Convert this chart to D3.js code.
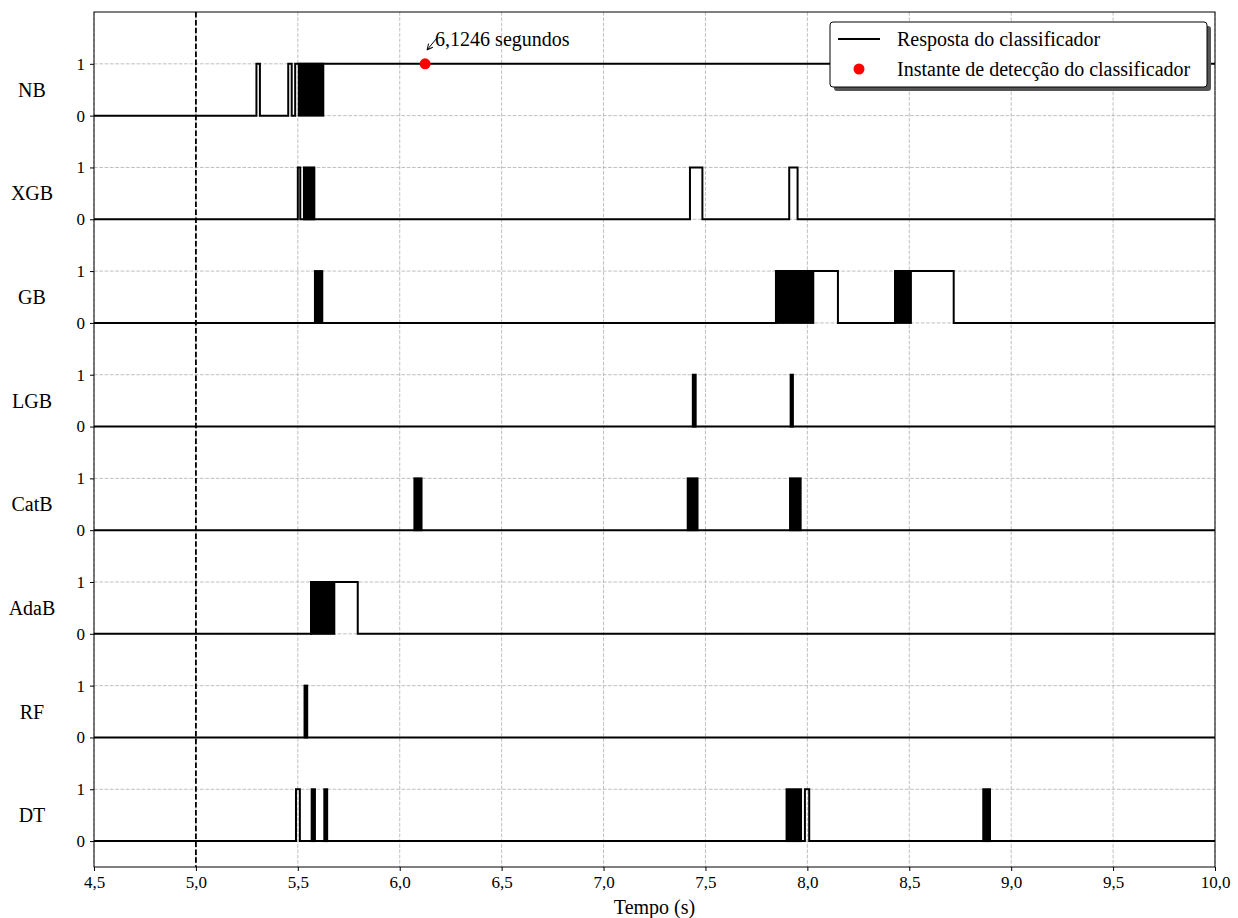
<!DOCTYPE html>
<html>
<head>
<meta charset="utf-8">
<script src="https://cdn.jsdelivr.net/npm/d3@7"></script>
<style>
  html, body { margin: 0; padding: 0; background: #fff; }
  svg { display: block; font-family: "Liberation Serif", "Times New Roman", serif; }
</style>
</head>
<body>
<svg id="chart" width="1238" height="918"></svg>
<script>
// Classifiers, top to bottom
const classifiers = ["NB", "XGB", "GB", "LGB", "CatB", "AdaB", "RF", "DT"];

// Intervals (s) where each classifier output holds 1
const pulsesNB   = [[5.297, 5.314], [5.453, 5.470], [5.487, 10.3]];
const pulsesXGB  = [[5.500, 5.512], [7.424, 7.485], [7.911, 7.952]];
const pulsesGB   = [[7.846, 8.150], [8.430, 8.718]];
const pulsesLGB  = [];
const pulsesCatB = [];
const pulsesAdaB = [[5.565, 5.794]];
const pulsesRF   = [];
const pulsesDT   = [[5.491, 5.510], [7.988, 8.009]];

// Intervals (s) where the output toggles between 0 and 1 on every sample
const burstsNB   = [[5.505, 5.625]];
const burstsXGB  = [[5.530, 5.581]];
const burstsGB   = [[5.584, 5.620], [7.846, 8.029], [8.430, 8.508]];
const burstsLGB  = [[7.438, 7.452], [7.918, 7.929]];
const burstsCatB = [[6.072, 6.107], [7.413, 7.461], [7.915, 7.967]];
const burstsAdaB = [[5.565, 5.679]];
const burstsRF   = [[5.533, 5.546]];
const burstsDT   = [[5.568, 5.584], [5.630, 5.644], [7.898, 7.969], [8.863, 8.896]];

const pulses = [pulsesNB, pulsesXGB, pulsesGB, pulsesLGB, pulsesCatB, pulsesAdaB, pulsesRF, pulsesDT];
const bursts = [burstsNB, burstsXGB, burstsGB, burstsLGB, burstsCatB, burstsAdaB, burstsRF, burstsDT];

// Axis ticks and markers
const xTicks = [4.5, 5.0, 5.5, 6.0, 6.5, 7.0, 7.5, 8.0, 8.5, 9.0, 9.5, 10.0];
const faultTime = 5.0;
const detectionTime = 6.1246;
const detectionLabel = "6,1246 segundos";
const legendLabels = ["Resposta do classificador", "Instante de detecção do classificador"];
const xLabel = "Tempo (s)";

const svg = d3.select("#chart");
const margin = { left: 94, right: 1215, top: 12, bottom: 867 };

const x = d3.scaleLinear().domain([4.5, 10.0]).range([margin.left, margin.right]);
const n = classifiers.length;
const offset = i => 2 * (n - 1 - i);
const y = d3.scaleLinear().domain([-0.5, 2 * n]).range([margin.bottom, margin.top]);

const fmt = v => d3.format(".1f")(v).replace(".", ",");

svg.append("defs").append("clipPath").attr("id", "plotclip")
  .append("rect")
  .attr("x", margin.left).attr("y", margin.top)
  .attr("width", margin.right - margin.left).attr("height", margin.bottom - margin.top);

const grid = svg.append("g").attr("stroke", "#b0b0b0").attr("stroke-width", 0.8)
  .attr("stroke-dasharray", "3.7,1.6");

// vertical grid
grid.selectAll("line.v").data(xTicks).join("line")
  .attr("x1", d => x(d)).attr("x2", d => x(d))
  .attr("y1", margin.top).attr("y2", margin.bottom);

// horizontal grid at each 0 / 1 level
const yTickVals = [];
classifiers.forEach((c, i) => { yTickVals.push(offset(i)); yTickVals.push(offset(i) + 1); });
grid.selectAll("line.h").data(yTickVals).join("line")
  .attr("x1", margin.left).attr("x2", margin.right)
  .attr("y1", d => y(d)).attr("y2", d => y(d));

const plot = svg.append("g").attr("clip-path", "url(#plotclip)");

// step responses
const line = d3.line().x(d => x(d[0])).y(d => y(d[1]));
classifiers.forEach((c, i) => {
  const o = offset(i);
  const pts = [[4.3, o]];
  pulses[i].forEach(([a, b]) => {
    pts.push([a, o], [a, o + 1], [b, o + 1], [b, o]);
  });
  pts.push([10.3, o]);
  plot.append("path")
    .attr("d", line(pts))
    .attr("fill", "none")
    .attr("stroke", "#000")
    .attr("stroke-width", 2)
    .attr("stroke-linejoin", "miter");

  plot.selectAll(null).data(bursts[i]).join("rect")
    .attr("x", d => x(d[0]))
    .attr("width", d => Math.max(0, x(d[1]) - x(d[0])))
    .attr("y", y(o + 1))
    .attr("height", y(o) - y(o + 1))
    .attr("fill", "#000")
    .attr("stroke", "#000")
    .attr("stroke-width", 2);
});

// fault instant
svg.append("line")
  .attr("x1", x(faultTime)).attr("x2", x(faultTime))
  .attr("y1", margin.top).attr("y2", margin.bottom)
  .attr("stroke", "#000").attr("stroke-width", 1.8)
  .attr("stroke-dasharray", "5.5,2.4");

// detection instant on NB
const nbOff = offset(0);
svg.append("circle")
  .attr("cx", x(detectionTime)).attr("cy", y(nbOff + 1))
  .attr("r", 5.5).attr("fill", "#ff0000");

// annotation with arrow
const ax = x(detectionTime), ay = y(nbOff + 1);
svg.append("defs").append("marker")
  .attr("id", "arrowhead").attr("viewBox", "0 0 10 10")
  .attr("refX", 9).attr("refY", 5)
  .attr("markerWidth", 7).attr("markerHeight", 7)
  .attr("orient", "auto")
  .append("path").attr("d", "M1,1 L9,5 L1,9").attr("fill", "none")
  .attr("stroke", "#000").attr("stroke-width", 1.4);
svg.append("line")
  .attr("x1", ax + 12).attr("y1", ay - 26)
  .attr("x2", ax + 2).attr("y2", ay - 14)
  .attr("stroke", "#000").attr("stroke-width", 1)
  .attr("marker-end", "url(#arrowhead)");
svg.append("text")
  .attr("x", ax + 10).attr("y", ay - 18)
  .attr("font-size", 20)
  .text(detectionLabel);

// frame
svg.append("rect")
  .attr("x", margin.left).attr("y", margin.top)
  .attr("width", margin.right - margin.left).attr("height", margin.bottom - margin.top)
  .attr("fill", "none").attr("stroke", "#000").attr("stroke-width", 1);

// x axis
const xAxis = d3.axisBottom(x).tickValues(xTicks).tickFormat(fmt).tickSize(4).tickPadding(5);
const gx = svg.append("g").attr("transform", `translate(0,${margin.bottom})`).call(xAxis);
gx.select(".domain").remove();
gx.selectAll("text").attr("font-size", 17).attr("fill", "#000")
  .attr("font-family", "Liberation Serif, serif");
gx.selectAll("line").attr("stroke", "#000");

// y axis: 0 / 1 per classifier
const yAxis = d3.axisLeft(y).tickValues(yTickVals).tickFormat(d => String(d % 2)).tickSize(4).tickPadding(5);
const gy = svg.append("g").attr("transform", `translate(${margin.left},0)`).call(yAxis);
gy.select(".domain").remove();
gy.selectAll("text").attr("font-size", 17).attr("fill", "#000")
  .attr("font-family", "Liberation Serif, serif");
gy.selectAll("line").attr("stroke", "#000");

// classifier names
svg.selectAll("text.cls").data(classifiers).join("text")
  .attr("class", "cls")
  .attr("x", 32).attr("y", (d, i) => y(offset(i) + 0.5))
  .attr("text-anchor", "middle").attr("dominant-baseline", "central")
  .attr("font-size", 20)
  .text(d => d);

// x label
svg.append("text")
  .attr("x", (margin.left + margin.right) / 2).attr("y", 914)
  .attr("text-anchor", "middle").attr("font-size", 20)
  .text(xLabel);

// legend
const lg = svg.append("g").attr("transform", "translate(830,22)");
lg.append("rect").attr("x", 4).attr("y", 4).attr("width", 377).attr("height", 65)
  .attr("rx", 3).attr("fill", "#555");
lg.append("rect").attr("x", 0).attr("y", 0).attr("width", 377).attr("height", 65)
  .attr("rx", 3).attr("fill", "#fff").attr("stroke", "#000").attr("stroke-width", 1);
lg.append("line").attr("x1", 8).attr("x2", 50).attr("y1", 17).attr("y2", 17)
  .attr("stroke", "#000").attr("stroke-width", 2);
lg.append("circle").attr("cx", 29).attr("cy", 47).attr("r", 5.5).attr("fill", "#ff0000");
lg.selectAll("text.lgt").data(legendLabels).join("text")
  .attr("class", "lgt")
  .attr("x", 67).attr("y", (d, i) => 17 + i * 30)
  .attr("dominant-baseline", "central")
  .attr("font-size", 20)
  .text(d => d);
</script>
</body>
</html>
